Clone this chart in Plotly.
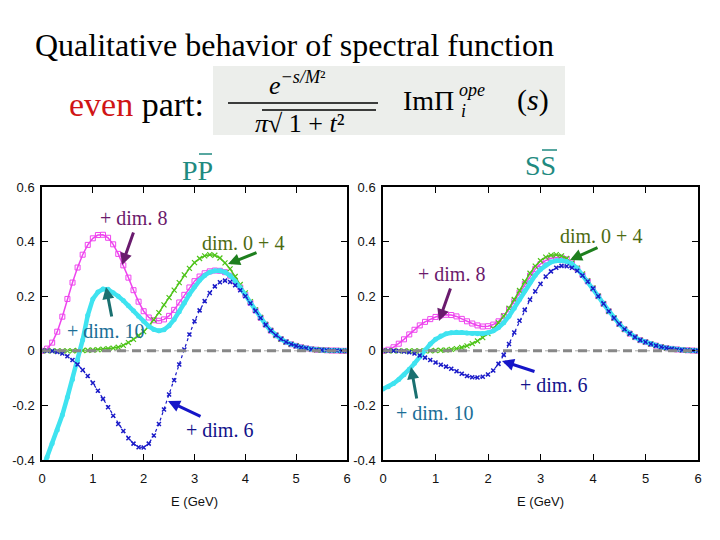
import plotly.graph_objects as go

# ---------------- data ----------------
E = [round(i * 0.1, 1) for i in range(61)]  # 0.0 .. 6.0 GeV

# P Pbar panel (left)
PP_dim04 = [0.000, 0.000, 0.000, 0.000, 0.000, 0.000, 0.000, 0.001, 0.001, 0.002,
            0.003, 0.004, 0.006, 0.008, 0.010, 0.013, 0.020, 0.030, 0.042, 0.056,
            0.070, 0.090, 0.113, 0.140, 0.168, 0.195, 0.222, 0.250, 0.278, 0.302,
            0.323, 0.338, 0.348, 0.352, 0.350, 0.340, 0.322, 0.300, 0.272, 0.243,
            0.212, 0.180, 0.150, 0.122, 0.097, 0.075, 0.057, 0.043, 0.032, 0.024,
            0.018, 0.013, 0.009, 0.006, 0.004, 0.003, 0.002, 0.001, 0.001, 0.000,
            0.000]
PP_dim6 = [0.000, 0.000, -0.001, -0.004, -0.010, -0.020, -0.034, -0.050, -0.070, -0.092,
           -0.118, -0.146, -0.176, -0.207, -0.238, -0.268, -0.294, -0.320, -0.340, -0.353,
           -0.354, -0.340, -0.310, -0.268, -0.215, -0.160, -0.108, -0.050, 0.005, 0.060,
           0.108, 0.148, 0.182, 0.212, 0.236, 0.251, 0.257, 0.252, 0.240, 0.222,
           0.200, 0.174, 0.146, 0.120, 0.095, 0.074, 0.057, 0.043, 0.032, 0.024,
           0.018, 0.013, 0.009, 0.006, 0.004, 0.003, 0.002, 0.001, 0.001, 0.000,
           0.000]
PP_dim8 = [0.000, 0.008, 0.030, 0.070, 0.125, 0.190, 0.250, 0.305, 0.352, 0.388,
           0.412, 0.424, 0.425, 0.414, 0.390, 0.355, 0.313, 0.268, 0.222, 0.180,
           0.145, 0.122, 0.112, 0.110, 0.115, 0.128, 0.150, 0.177, 0.205, 0.232,
           0.255, 0.272, 0.284, 0.291, 0.294, 0.293, 0.288, 0.275, 0.255, 0.232,
           0.205, 0.176, 0.148, 0.121, 0.096, 0.074, 0.057, 0.043, 0.032, 0.024,
           0.018, 0.013, 0.009, 0.006, 0.004, 0.003, 0.002, 0.001, 0.001, 0.000,
           0.000]
PP_dim10 = [-0.440, -0.390, -0.340, -0.290, -0.235, -0.170, -0.105, -0.035, 0.040, 0.130,
            0.190, 0.215, 0.226, 0.225, 0.213, 0.200, 0.184, 0.165, 0.147, 0.127,
            0.108, 0.090, 0.078, 0.073, 0.077, 0.092, 0.115, 0.143, 0.175, 0.207,
            0.235, 0.258, 0.276, 0.288, 0.293, 0.293, 0.288, 0.275, 0.255, 0.232,
            0.205, 0.176, 0.148, 0.121, 0.096, 0.074, 0.057, 0.043, 0.032, 0.024,
            0.018, 0.013, 0.009, 0.006, 0.004, 0.003, 0.002, 0.001, 0.001, 0.000,
            0.000]

# S Sbar panel (right)
SS_dim04 = [0.000, 0.000, 0.000, 0.000, 0.000, 0.000, 0.000, 0.000, 0.000, 0.000,
            0.001, 0.002, 0.003, 0.005, 0.008, 0.012, 0.018, 0.026, 0.036, 0.048,
            0.063, 0.081, 0.102, 0.127, 0.156, 0.188, 0.221, 0.254, 0.284, 0.310,
            0.330, 0.343, 0.350, 0.352, 0.348, 0.338, 0.322, 0.303, 0.282, 0.257,
            0.230, 0.200, 0.172, 0.145, 0.120, 0.098, 0.079, 0.063, 0.050, 0.039,
            0.032, 0.025, 0.019, 0.014, 0.010, 0.007, 0.005, 0.003, 0.002, 0.001,
            0.000]
SS_dim6 = [0.000, 0.000, 0.000, -0.001, -0.002, -0.005, -0.010, -0.017, -0.025, -0.034,
           -0.043, -0.051, -0.058, -0.066, -0.075, -0.084, -0.092, -0.097, -0.098, -0.095,
           -0.087, -0.072, -0.048, -0.015, 0.025, 0.067, 0.110, 0.150, 0.187, 0.218,
           0.245, 0.272, 0.291, 0.304, 0.311, 0.310, 0.304, 0.293, 0.276, 0.254,
           0.228, 0.200, 0.172, 0.145, 0.120, 0.098, 0.079, 0.063, 0.050, 0.039,
           0.032, 0.025, 0.019, 0.014, 0.010, 0.007, 0.005, 0.003, 0.002, 0.001,
           0.000]
SS_dim8 = [0.000, 0.004, 0.013, 0.026, 0.042, 0.060, 0.077, 0.093, 0.106, 0.116,
           0.124, 0.130, 0.132, 0.131, 0.126, 0.117, 0.108, 0.100, 0.093, 0.089,
           0.090, 0.096, 0.108, 0.127, 0.152, 0.182, 0.214, 0.245, 0.275, 0.300,
           0.318, 0.331, 0.339, 0.342, 0.341, 0.335, 0.320, 0.301, 0.278, 0.254,
           0.228, 0.200, 0.172, 0.145, 0.120, 0.098, 0.079, 0.063, 0.050, 0.039,
           0.032, 0.025, 0.019, 0.014, 0.010, 0.007, 0.005, 0.003, 0.002, 0.001,
           0.000]
SS_dim10 = [-0.140, -0.132, -0.120, -0.105, -0.088, -0.068, -0.046, -0.022, 0.003, 0.025,
            0.042, 0.054, 0.062, 0.066, 0.068, 0.067, 0.065, 0.063, 0.062, 0.063,
            0.066, 0.073, 0.085, 0.103, 0.127, 0.156, 0.188, 0.220, 0.250, 0.277,
            0.298, 0.314, 0.325, 0.330, 0.331, 0.327, 0.318, 0.302, 0.278, 0.254,
            0.228, 0.200, 0.172, 0.145, 0.120, 0.098, 0.079, 0.063, 0.050, 0.039,
            0.032, 0.025, 0.019, 0.014, 0.010, 0.007, 0.005, 0.003, 0.002, 0.001,
            0.000]

X_TICKS = [0, 1, 2, 3, 4, 5, 6]
Y_TICKS = [-0.4, -0.2, 0, 0.2, 0.4, 0.6]
Y_TICK_TEXT = ["-0.4", "-0.2", "0", "0.2", "0.4", "0.6"]

# ---------------- styling ----------------
W, H = 720, 540
OX, OY = 8, 8  # page body margin of the html page
def PX(x):
    return (x - OX) / W
def PY(y):
    return 1 - (y - OY) / H

SERIF = "Liberation Serif, Times New Roman, serif"
SANS = "Liberation Sans, Arial, sans-serif"

C_MAG = "#ee44ee"
C_GRN = "#4fc41a"
C_BLU = "#1a1ac8"
C_CYA = "#3fe3f0"

fig = go.Figure()

def add_panel(xa, ya, d04, d6, d8, d10):
    fig.add_trace(go.Scatter(x=E, y=d8, mode="lines+markers", xaxis=xa, yaxis=ya,
                             line=dict(color=C_MAG, width=1.5),
                             marker=dict(symbol="square-open", size=5, color=C_MAG,
                                         line=dict(width=1, color=C_MAG)),
                             showlegend=False, name="+ dim. 8"))
    fig.add_trace(go.Scatter(x=E, y=d04, mode="lines+markers", xaxis=xa, yaxis=ya,
                             line=dict(color=C_GRN, width=1.5),
                             marker=dict(symbol="x-thin", size=5, color=C_GRN,
                                         line=dict(width=1.2, color=C_GRN)),
                             showlegend=False, name="dim. 0 + 4"))
    fig.add_trace(go.Scatter(x=E, y=d10, mode="lines+markers", xaxis=xa, yaxis=ya,
                             line=dict(color=C_CYA, width=4.5),
                             marker=dict(symbol="circle", size=5, color=C_CYA),
                             showlegend=False, name="+ dim. 10"))
    fig.add_trace(go.Scatter(x=E, y=d6, mode="lines+markers", xaxis=xa, yaxis=ya,
                             line=dict(color=C_BLU, width=1.2, dash="dot"),
                             marker=dict(symbol="x-thin", size=4, color=C_BLU,
                                         line=dict(width=1.5, color=C_BLU)),
                             showlegend=False, name="+ dim. 6"))

add_panel("x", "y", PP_dim04, PP_dim6, PP_dim8, PP_dim10)
add_panel("x2", "y2", SS_dim04, SS_dim6, SS_dim8, SS_dim10)

axis_common = dict(showline=True, linecolor="black", linewidth=1.5, mirror="ticks",
                   ticks="inside", ticklen=6, tickwidth=1.2, tickcolor="black",
                   showgrid=False, zeroline=False, automargin=False,
                   tickfont=dict(family=SANS, size=13, color="#111"))

ydom = [PY(460), PY(187)]
xaxis_cfg = dict(range=[0, 6], tickvals=X_TICKS, ticklabelstandoff=6,
                 title=dict(text="E (GeV)", font=dict(family=SANS, size=13, color="#111"),
                            standoff=12), **axis_common)
yaxis_cfg = dict(range=[-0.4, 0.6], tickvals=Y_TICKS, ticktext=Y_TICK_TEXT,
                 ticklabelstandoff=3, **axis_common)

fig.update_layout(
    width=W, height=H,
    margin=dict(l=0, r=0, t=0, b=0, autoexpand=False),
    paper_bgcolor="white", plot_bgcolor="white",
    xaxis=dict(domain=[PX(42), PX(347)], anchor="y", **xaxis_cfg),
    yaxis=dict(domain=ydom, anchor="x", **yaxis_cfg),
    xaxis2=dict(domain=[PX(383), PX(698)], anchor="y2", **xaxis_cfg),
    yaxis2=dict(domain=ydom, anchor="x2", **yaxis_cfg),
)

shapes = []
# zero reference lines
for xr, yr in (("x", "y"), ("x2", "y2")):
    shapes.append(dict(type="line", xref=xr, yref=yr, x0=0, x1=6, y0=0, y1=0,
                       line=dict(color="#aaaaaa", width=1, dash="dot"), layer="above"))
    shapes.append(dict(type="line", xref=xr, yref=yr, x0=0, x1=6, y0=0, y1=0,
                       line=dict(color="#888888", width=3, dash="9px,6px"), layer="above"))

# formula box
shapes.append(dict(type="rect", xref="paper", yref="paper",
                   x0=PX(213), x1=PX(565), y0=PY(135), y1=PY(66),
                   fillcolor="#eceeeb", line=dict(width=0), layer="below"))
# fraction bar
shapes.append(dict(type="line", xref="paper", yref="paper",
                   x0=PX(228), x1=PX(378), y0=PY(103), y1=PY(103),
                   line=dict(color="black", width=1.6)))
# radical bar
shapes.append(dict(type="line", xref="paper", yref="paper",
                   x0=PX(262), x1=PX(376), y0=PY(110), y1=PY(110),
                   line=dict(color="black", width=1.3)))
# overlines for the antiparticles
shapes.append(dict(type="line", xref="paper", yref="paper",
                   x0=PX(199), x1=PX(212), y0=PY(154), y1=PY(154),
                   line=dict(color="#1f8a80", width=1.5)))
shapes.append(dict(type="line", xref="paper", yref="paper",
                   x0=PX(542), x1=PX(557), y0=PY(150), y1=PY(150),
                   line=dict(color="#1f8a80", width=1.5)))
fig.update_layout(shapes=shapes)

ann = []
def text(x, y, s, size, color="black", family=SERIF, xanchor="center"):
    ann.append(dict(x=PX(x), y=PY(y), xref="paper", yref="paper", text=s,
                    showarrow=False, xanchor=xanchor, yanchor="middle",
                    font=dict(family=family, size=size, color=color)))

def arrow(x_tail, y_tail, x_head, y_head, color):
    ann.append(dict(x=PX(x_head), y=PY(y_head), xref="paper", yref="paper", text="",
                    showarrow=True, ax=x_tail - x_head, ay=y_tail - y_head,
                    axref="pixel", ayref="pixel", arrowhead=2, arrowsize=0.8,
                    arrowwidth=3, arrowcolor=color, standoff=0, startstandoff=0))

# headings
text(33, 45, "Qualitative behavior of spectral function", 32, xanchor="left")
text(67, 104, "<span style='color:#d01515'>even</span> part:", 34, xanchor="left")

# formula
text(297, 84, "<i>e</i><sup><i>−s/M</i>²</sup>", 26)
text(300, 123, "<i>π</i>√ 1 + <i>t</i>²", 26)
text(401, 100, "ImΠ", 28, xanchor="left")
text(457, 90, "<i>ope</i>", 18, xanchor="left")
text(459, 111, "<i>i</i>", 18, xanchor="left")
text(533, 100, "(<i>s</i>)", 30)

# panel titles
text(197, 170, "PP", 28, color="#1f8a80")
text(540, 165, "SS", 28, color="#1f8a80")

# labels, left panel
text(134, 218, "+ dim. 8", 20, color="#6b1a6b")
arrow(134, 231, 122, 265, "#6a1b6e")
text(243, 243, "dim. 0 + 4", 20, color="#4d6b12")
arrow(258, 252, 228, 264, "#1e7f1e")
text(105, 331, "+ dim. 10", 20, color="#1b6e96")
arrow(112, 318, 106, 287, "#1a7070")
text(219, 430, "+ dim. 6", 20, color="#12128a")
arrow(202, 417, 168, 401, "#1515c8")

# labels, right panel
text(601, 236, "dim. 0 + 4", 20, color="#4d6b12")
arrow(599, 247, 570, 260, "#1e7f1e")
text(451, 274, "+ dim. 8", 20, color="#6b1a6b")
arrow(451, 287, 439, 321, "#6a1b6e")
text(553, 385, "+ dim. 6", 20, color="#12128a")
arrow(536, 372, 502, 361, "#1515c8")
text(434, 413, "+ dim. 10", 20, color="#1b6e96")
arrow(417, 400, 411, 367, "#1a7070")

fig.update_layout(annotations=ann)

fig.write_html("out.html")
